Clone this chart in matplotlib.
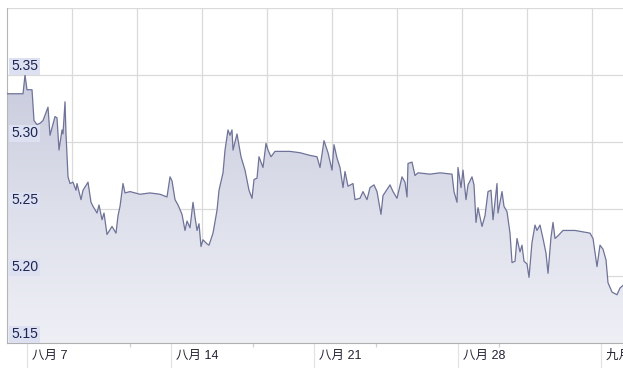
import numpy as np
import matplotlib
matplotlib.use("Agg")
import matplotlib.pyplot as plt
import matplotlib.transforms as mtransforms
from matplotlib.colors import LinearSegmentedColormap

# ---- data (days since Aug 7, rate) ----
days = [-0.976, -0.195, -0.098, 0.0, 0.244, 0.341, 0.488, 0.634, 0.780, 1.024,
        1.122, 1.366, 1.463, 1.561, 1.707, 1.756, 1.854, 1.902, 2.0, 2.098,
        2.244, 2.390, 2.439, 2.634, 2.732, 2.976, 3.122, 3.220, 3.415, 3.512,
        3.659, 3.756, 3.902, 4.146, 4.341, 4.439, 4.537, 4.683, 4.780, 5.024,
        5.512, 6.0, 6.488, 6.829, 6.976, 7.073, 7.220, 7.366, 7.561, 7.707,
        7.805, 7.951, 8.098, 8.195, 8.293, 8.390, 8.488, 8.585, 8.780, 8.878,
        9.073, 9.268, 9.366, 9.561, 9.659, 9.805, 9.902, 10.0, 10.049, 10.244,
        10.439, 10.634, 10.829, 10.976, 11.073, 11.220, 11.317, 11.512, 11.659, 11.756,
        11.902, 12.098, 12.829, 13.317, 13.805, 14.146, 14.293, 14.488, 14.683, 14.878,
        14.976, 15.122, 15.268, 15.415, 15.512, 15.659, 15.902, 16.0, 16.244, 16.390,
        16.585, 16.732, 16.927, 17.073, 17.268, 17.366, 17.707, 17.854, 18.049, 18.293,
        18.439, 18.537, 18.585, 18.780, 18.927, 19.073, 19.659, 20.146, 20.732, 20.829,
        20.976, 21.024, 21.171, 21.268, 21.415, 21.512, 21.707, 21.805, 21.902, 22.0,
        22.195, 22.341, 22.488, 22.634, 22.732, 22.927, 22.976, 23.171, 23.268, 23.415,
        23.561, 23.659, 23.805, 23.902, 24.049, 24.146, 24.244, 24.390, 24.488, 24.634,
        24.780, 24.878, 25.024, 25.171, 25.317, 25.415, 25.561, 25.659, 25.756, 25.902,
        26.146, 26.732, 27.463, 27.610, 27.805, 27.951, 28.098, 28.244, 28.341, 28.537,
        28.780, 28.927, 29.073]
rate = [5.336, 5.336, 5.350, 5.339, 5.339, 5.316, 5.313, 5.314, 5.316, 5.326,
        5.305, 5.319, 5.318, 5.294, 5.309, 5.306, 5.330, 5.306, 5.274, 5.269,
        5.270, 5.264, 5.269, 5.257, 5.264, 5.270, 5.255, 5.252, 5.247, 5.253,
        5.242, 5.247, 5.231, 5.237, 5.232, 5.245, 5.252, 5.269, 5.262, 5.263,
        5.261, 5.262, 5.261, 5.259, 5.274, 5.271, 5.257, 5.253, 5.246, 5.234,
        5.241, 5.236, 5.255, 5.244, 5.234, 5.239, 5.222, 5.227, 5.224, 5.223,
        5.232, 5.249, 5.264, 5.277, 5.294, 5.309, 5.305, 5.309, 5.294, 5.306,
        5.289, 5.279, 5.264, 5.258, 5.272, 5.273, 5.289, 5.281, 5.299, 5.294,
        5.289, 5.293, 5.293, 5.292, 5.290, 5.289, 5.281, 5.301, 5.292, 5.279,
        5.298, 5.288, 5.281, 5.266, 5.278, 5.267, 5.269, 5.257, 5.258, 5.263,
        5.257, 5.266, 5.268, 5.263, 5.246, 5.260, 5.268, 5.263, 5.258, 5.274,
        5.270, 5.259, 5.284, 5.285, 5.275, 5.277, 5.276, 5.277, 5.276, 5.263,
        5.255, 5.281, 5.266, 5.279, 5.257, 5.268, 5.274, 5.268, 5.240, 5.251,
        5.237, 5.245, 5.263, 5.264, 5.242, 5.269, 5.247, 5.263, 5.252, 5.248,
        5.232, 5.210, 5.211, 5.228, 5.218, 5.223, 5.211, 5.209, 5.199, 5.225,
        5.238, 5.234, 5.238, 5.228, 5.217, 5.202, 5.229, 5.240, 5.228, 5.230,
        5.234, 5.234, 5.232, 5.228, 5.207, 5.223, 5.220, 5.212, 5.195, 5.188,
        5.186, 5.191, 5.193]

x_tick_days = [0, 7, 14, 21, 28]
x_tick_labels = ["八月 7", "八月 14", "八月 21", "八月 28", "九月 4"]
minor_tick_days = [5, 11, 17, 23]
y_ticks = [5.15, 5.20, 5.25, 5.30, 5.35]
y_tick_labels = ["5.15", "5.20", "5.25", "5.30", "5.35"]

XMIN, XMAX = -0.976, 29.073
YMIN, YMAX = 5.15, 5.40

fig = plt.figure(figsize=(6.23, 3.68), dpi=100)
ax = fig.add_axes([7 / 623, 25 / 368, 616 / 623, 335 / 368])
ax.set_xlim(XMIN, XMAX)
ax.set_ylim(YMIN, YMAX)

# grid
grid_c = "#dadada"
for yv in np.arange(5.15, 5.401, 0.05):
    ax.axhline(yv, color=grid_c, lw=0.9, zorder=0)
step = 65 / 616 * (XMAX - XMIN)
gx = XMIN + step
while gx < XMAX:
    ax.axvline(gx, color=grid_c, lw=0.9, zorder=0)
    gx += step

# gradient fill under the line
x = np.array(days)
y = np.array(rate)
poly = ax.fill_between(x, y, YMIN, facecolor="none", edgecolor="none")
cmap = LinearSegmentedColormap.from_list("g", ["#eff0f6", "#dcdeea", "#c7cadc"])
grad = np.linspace(0, 1, 256).reshape(-1, 1)
img = ax.imshow(grad, extent=[XMIN, XMAX, YMIN, 5.36], origin="lower",
                aspect="auto", cmap=cmap, zorder=1, interpolation="bicubic")
img.set_clip_path(poly.get_paths()[0], transform=ax.transData)
ax.plot(x, y, color="#6f7398", lw=0.9, zorder=3)

# spines
for s in ["top", "right"]:
    ax.spines[s].set_visible(False)
ax.spines["left"].set_color("#b5b5b5")
ax.spines["bottom"].set_color("#b0b0b0")

# y labels inside
ax.set_yticks([])
for yv, lab in zip(y_ticks, y_tick_labels):
    ax.text(4 / 616, yv + 0.0012, lab, transform=ax.get_yaxis_transform(),
            ha="left", va="bottom", fontsize=10, color="#1c2452",
            family=["Liberation Sans", "DejaVu Sans"], zorder=5,
            bbox=dict(boxstyle="square,pad=0.12", facecolor="#dde0f0",
                      edgecolor="none"))

# x ticks
ax.set_xticks(x_tick_days)
ax.set_xticklabels(x_tick_labels, ha="left",
                   family=["Liberation Sans", "Noto Sans CJK SC"],
                   fontsize=9, color="#222233")
ax.set_xticks(minor_tick_days, minor=True)
ax.tick_params(axis="x", which="major", length=18, color="#e3e3e3",
               pad=-13, width=0.9)
offset = mtransforms.ScaledTranslation(5 / 100, 0, fig.dpi_scale_trans)
for lbl in ax.get_xticklabels():
    lbl.set_transform(lbl.get_transform() + offset)
ax.tick_params(axis="x", which="minor", length=3, color="#d0d0d0", width=0.9)

fig.savefig("out.png", dpi=100)
